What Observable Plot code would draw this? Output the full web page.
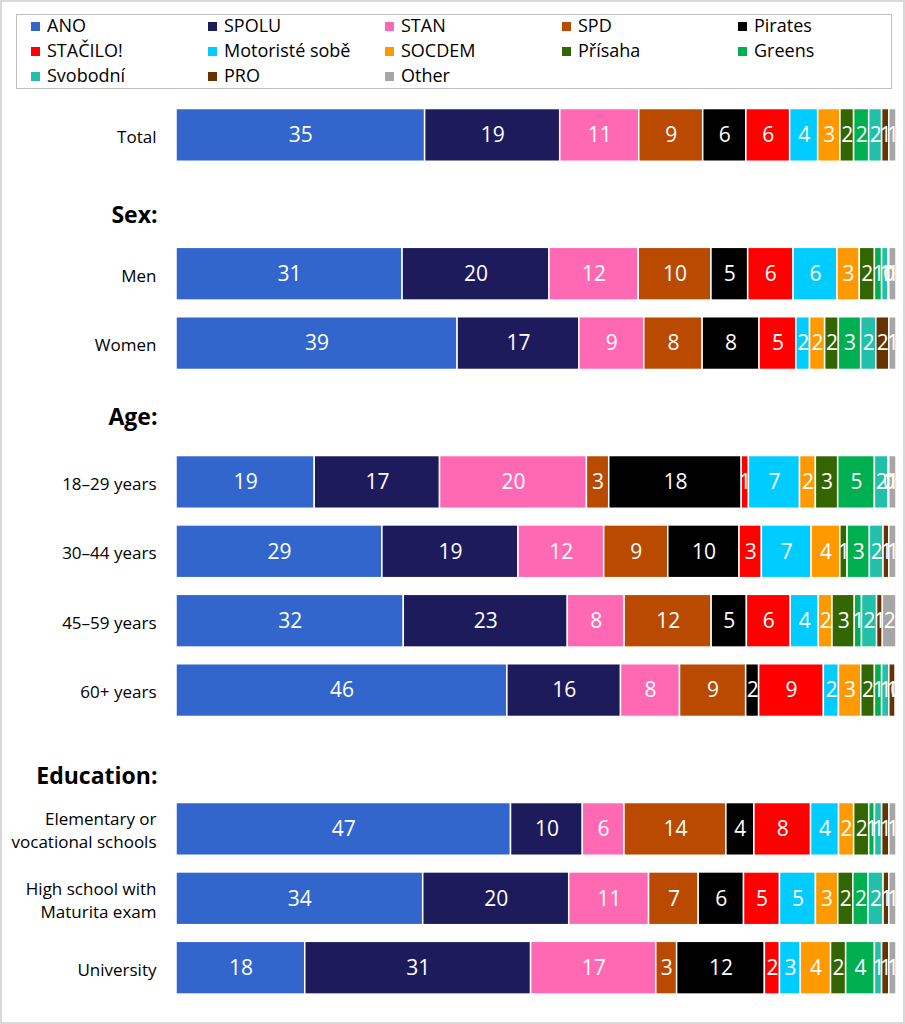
<!DOCTYPE html>
<html>
<head>
<meta charset="utf-8">
<script src="https://cdn.jsdelivr.net/npm/d3@7"></script>
<script src="https://cdn.jsdelivr.net/npm/@observablehq/plot@0.6"></script>
<style>
  html, body { margin: 0; padding: 0; background: #fff; }
  #wrap { position: relative; width: 905px; height: 1024px; overflow: hidden; font-family: "Open Sans", Lato, sans-serif; }
  #frame { position: absolute; left: 0; top: 0; width: 905px; height: 1024px; box-sizing: border-box; border: 2px solid #d9d9d9; pointer-events: none; }
  #legend { position: absolute; left: 16px; top: 14px; width: 876px; height: 75px; box-sizing: border-box; border: 1.5px solid #bfbfbf; }
  .item { position: absolute; height: 25px; line-height: 25px; font-size: 18px; color: #000; white-space: nowrap; }
  .sw { display: inline-block; width: 9px; height: 9px; margin-right: 7px; vertical-align: 1px; }
  #chart { position: absolute; left: 0; top: 95px; }
</style>
</head>
<body>
<div id="wrap">
  <div id="legend"></div>
  <div id="chart"></div>
  <div id="frame"></div>
</div>
<script>
// Parties (series) and their colours
const parties = ["ANO", "SPOLU", "STAN", "SPD", "Pirates", "STAČILO!", "Motoristé sobě", "SOCDEM", "Přísaha", "Greens", "Svobodní", "PRO", "Other"];
const partyColors = ["#3366cc", "#1d1b5c", "#ff69b4", "#b94a00", "#000000", "#ff0000", "#00ccff", "#ff9900", "#336600", "#00b050", "#22bfa9", "#663300", "#a6a6a6"];

// Rows (categories), section headers and tick labels
const rows = ["Total", "Men", "Women", "18–29 years", "30–44 years", "45–59 years", "60+ years", "Elementary or vocational schools", "High school with Maturita exam", "University"];
const rowLabels = ["Total", "Men", "Women", "18–29 years", "30–44 years", "45–59 years", "60+ years", "Elementary or\nvocational schools", "High school with\nMaturita exam", "University"];
const headers = ["Sex:", "Age:", "Education:"];
const yOrder = ["Total", "Sex:", "Men", "Women", "Age:", "18–29 years", "30–44 years", "45–59 years", "60+ years", "Education:", "Elementary or vocational schools", "High school with Maturita exam", "University"];

// Shares (%) per party, one value per row (in the order of `rows`)
const ANO      = [34.6, 31.4, 39.0, 19.2, 28.6, 31.6, 46.0, 46.6, 34.3, 17.9];
const SPOLU    = [18.8, 20.4, 16.9, 17.4, 18.9, 22.8, 15.8, 10.0, 20.3, 31.4];
const STAN     = [11.0, 12.4,  9.0, 20.4, 11.9,  7.9,  8.2,  5.8, 11.1, 17.4];
const SPD      = [ 8.9, 10.1,  8.1,  3.1,  8.9, 12.1,  9.2, 14.2,  6.9,  2.9];
const Pirates  = [ 6.0,  5.1,  7.9, 18.4,  9.9,  4.9,  1.8,  3.9,  6.3, 12.2];
const STACILO  = [ 6.1,  6.3,  5.1,  1.0,  3.1,  6.1,  9.0,  7.9,  5.0,  2.1];
const Motoriste= [ 3.9,  6.1,  1.9,  7.1,  6.9,  3.9,  2.1,  3.9,  5.0,  2.9];
const SOCDEM   = [ 3.1,  3.1,  2.1,  2.2,  4.0,  1.9,  3.1,  2.1,  3.1,  4.2];
const Prisaha  = [ 1.9,  2.1,  1.9,  3.1,  1.0,  3.1,  1.9,  2.1,  2.1,  2.1];
const Greens   = [ 2.1,  1.0,  3.1,  5.1,  3.1,  1.0,  1.0,  0.8,  2.1,  4.0];
const Svobodni = [ 1.8,  0.9,  2.1,  1.9,  1.9,  2.1,  1.0,  1.0,  2.1,  1.0];
const PRO      = [ 1.0,  0.1,  1.8,  0.1,  0.8,  0.8,  0.9,  1.0,  0.8,  1.0];
const Other    = [ 1.0,  1.0,  1.0,  1.0,  1.0,  1.9,  0.1,  1.0,  1.0,  1.0];

const series = [ANO, SPOLU, STAN, SPD, Pirates, STACILO, Motoriste, SOCDEM, Prisaha, Greens, Svobodni, PRO, Other];

// Tidy table built from the arrays
const data = [];
rows.forEach((r, i) => {
  parties.forEach((p, j) => {
    data.push({row: r, party: p, value: series[j][i]});
  });
});

// Legend (HTML)
const legend = document.getElementById("legend");
const colX = [14, 191, 368, 545, 721];
parties.forEach((p, i) => {
  const el = document.createElement("div");
  el.className = "item";
  el.style.left = colX[i % 5] + "px";
  el.style.top = (Math.floor(i / 5) * 25 - 2) + "px";
  el.innerHTML = `<span class="sw" style="background:${partyColors[i]}"></span>${p}`;
  legend.appendChild(el);
});

const labelOf = new Map(rows.map((r, i) => [r, rowLabels[i]]));
const headerDy = {"Sex:": 11, "Age:": 5, "Education:": 17};

const chart = Plot.plot({
  width: 905,
  height: 920,
  marginLeft: 176,
  marginRight: 9,
  marginTop: 5.2,
  marginBottom: 12.6,
  style: {fontFamily: "'Open Sans', Lato, sans-serif", background: "#fff"},
  x: {domain: [0, 1], axis: null},
  y: {domain: yOrder, paddingInner: 0.24, paddingOuter: 0.12, round: false, label: null},
  color: {domain: parties, range: partyColors},
  marks: [
    Plot.barX(data, Plot.stackX({
      x: "value", y: "row", fill: "party", order: null, offset: "normalize",
      stroke: "white", strokeWidth: 1.5
    })),
    Plot.text(data, Plot.stackX({
      x: "value", y: "row", z: "party", order: null, offset: "normalize",
      text: d => String(Math.round(d.value)),
      fill: "white", fontSize: 21
    })),
    Plot.axisY({
      tickSize: 0, tickPadding: 20, fontSize: 17, lineHeight: 1.35, fill: "#000",
      tickFormat: d => headers.includes(d) ? "" : labelOf.get(d)
    }),
    ...headers.map(h => Plot.text([h], {
      y: d => d, text: d => d, frameAnchor: "left", textAnchor: "end",
      dx: -19, dy: headerDy[h], fontSize: 23, fontWeight: "bold", fill: "#000"
    }))
  ]
});
document.getElementById("chart").appendChild(chart);
</script>
</body>
</html>
